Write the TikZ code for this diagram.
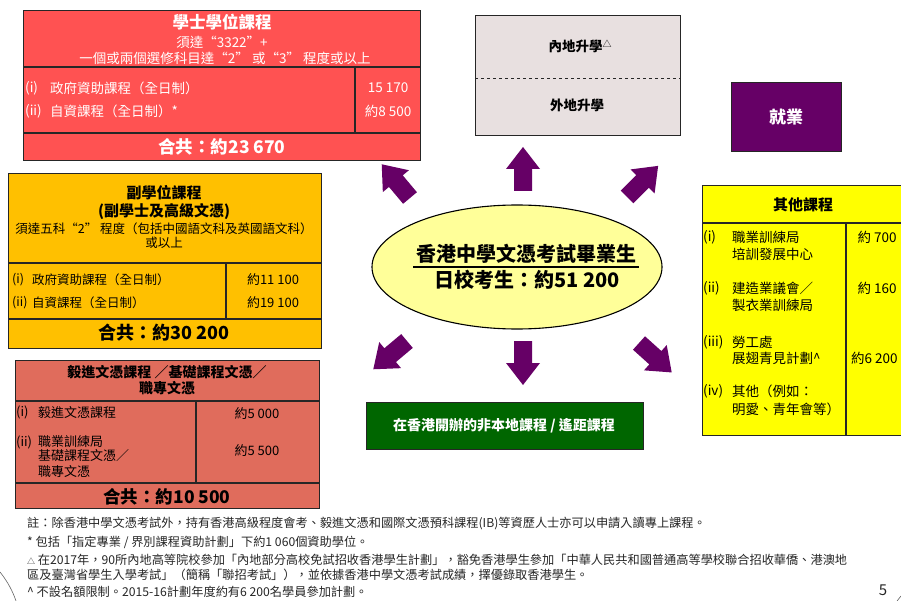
\documentclass[tikz,border=0pt]{standalone}
\usepackage{fontspec}
\setmainfont{Noto Sans CJK TC}
\usetikzlibrary{shapes.geometric}
\definecolor{redA}{RGB}{255,82,82}
\definecolor{orangeA}{RGB}{255,192,0}
\definecolor{salmonA}{RGB}{224,108,92}
\definecolor{yellowA}{RGB}{255,255,0}
\definecolor{lightyel}{RGB}{255,255,153}
\definecolor{purpleA}{RGB}{102,0,102}
\definecolor{greenA}{RGB}{0,102,0}
\definecolor{greyA}{RGB}{232,224,224}
\newcommand\fsz[1]{\fontsize{#1}{#1}\selectfont}
\tikzset{
  panel/.style={draw=black!85, line width=1.1pt, anchor=north west, inner sep=0pt},
  sep/.style={draw=black!85, line width=1.1pt},
  txt/.style={inner sep=0pt, anchor=center},
  ltxt/.style={inner sep=0pt, anchor=west},
  note/.style={inner sep=0pt, anchor=west, text=black!85, font=\fsz{12.2}},
  pics/blockarrow/.style={code={
    \fill[purpleA] (0,-9) -- (22,-9) -- (22,-17) -- (44,0) -- (22,17) -- (22,9) -- (0,9) -- cycle;}}
}
\begin{document}
\begin{tikzpicture}[x=1pt,y=-1pt]
\useasboundingbox (0,0) rectangle (901,601);
\fill[white] (0,0) rectangle (901,601);

% ---- Box 1: bachelor
\node[panel, fill=redA, minimum width=397pt, minimum height=150pt] (bach) at (23,10) {};
\draw[sep] (23,67) -- (420,67);
\draw[sep] (23,133) -- (420,133);
\draw[sep] (355,67) -- (355,133);
\node[txt, text=white, font=\bfseries\fsz{16.5}] (b1) at (222,22) {學士學位課程};
\node[txt, text=white, font=\fsz{13.5}] (b2) at (222,42) {須達“3322”+};
\node[txt, text=white, font=\fsz{13.5}] (b3) at (225,58) {一個或兩個選修科目達“2” 或“3” 程度或以上};
\node[ltxt, text=white, font=\fsz{13.5}] (b4a) at (25,88) {(i)};
\node[ltxt, text=white, font=\fsz{13.5}] (b4) at (50,88) {政府資助課程（全日制）};
\node[ltxt, text=white, font=\fsz{13.5}] (b5a) at (25,111) {(ii)};
\node[ltxt, text=white, font=\fsz{13.5}] (b5) at (50,111) {自資課程（全日制）*};
\node[txt, text=white, font=\fsz{13.5}] (b6) at (388,88) {15 170};
\node[txt, text=white, font=\fsz{13.5}] (b7) at (388,111) {約8 500};
\node[txt, text=white, font=\bfseries\fsz{17.5}] (b8) at (222,147) {合共：約23 670};

% ---- Box 2: sub-degree
\node[panel, fill=orangeA, minimum width=313pt, minimum height=175pt] (sub) at (8,173) {};
\draw[sep] (8,263) -- (321,263);
\draw[sep] (8,319) -- (321,319);
\draw[sep] (226,263) -- (226,319);
\node[txt, font=\bfseries\fsz{15}] (s1) at (164,193) {副學位課程};
\node[txt, font=\bfseries\fsz{15}] (s2) at (164,212) {(副學士及高級文憑)};
\node[txt, font=\fsz{12.5}] (s3) at (164,229) {須達五科“2” 程度（包括中國語文科及英國語文科）};
\node[txt, font=\fsz{12.5}] (s4) at (164,243) {或以上};
\node[ltxt, font=\fsz{12.5}] (s5a) at (12,280) {(i)};
\node[ltxt, font=\fsz{12.5}] (s5) at (32,280) {政府資助課程（全日制）};
\node[ltxt, font=\fsz{12.5}] (s6a) at (12,303) {(ii)};
\node[ltxt, font=\fsz{12.5}] (s6) at (32,303) {自資課程（全日制）};
\node[txt, font=\fsz{13}] (s7) at (273,280) {約11 100};
\node[txt, font=\fsz{13}] (s8) at (273,303) {約19 100};
\node[txt, font=\bfseries\fsz{18}] (s9) at (164,333) {合共：約30 200};

% ---- Box 3: yi jin
\node[panel, fill=salmonA, minimum width=304pt, minimum height=148pt] (yj) at (15,360) {};
\draw[sep] (15,401) -- (319,401);
\draw[sep] (15,483) -- (319,483);
\draw[sep] (196,401) -- (196,483);
\node[txt, font=\bfseries\fsz{14}] (y1) at (167,372) {毅進文憑課程 ∕基礎課程文憑∕};
\node[txt, font=\bfseries\fsz{14}] (y2) at (167,388) {職專文憑};
\node[ltxt, font=\fsz{13}] (y3) at (16,412) {(i)};
\node[ltxt, font=\fsz{13}] (y4) at (38,412) {毅進文憑課程};
\node[ltxt, font=\fsz{13}] (y5) at (16,442) {(ii)};
\node[ltxt, font=\fsz{13}] (y6) at (38,442) {職業訓練局};
\node[ltxt, font=\fsz{13}] (y7) at (38,456) {基礎課程文憑∕};
\node[ltxt, font=\fsz{13}] (y8) at (38,472) {職專文憑};
\node[txt, font=\fsz{13}] (y9) at (257,414) {約5 000};
\node[txt, font=\fsz{13}] (y10) at (257,451) {約5 500};
\node[txt, font=\bfseries\fsz{17.5}] (y11) at (167,497) {合共：約10 500};

% ---- Box 4: mainland / outside
\node[panel, fill=greyA, minimum width=205pt, minimum height=120pt] (ml) at (475,15) {};
\draw[black!85, dashed, line width=0.8pt] (475,78) -- (680,78);
\node[txt, font=\bfseries\fsz{13.5}] (m1) at (580,46) {內地升學\raisebox{4pt}{\fsz{9}\mdseries △}};
\node[txt, font=\bfseries\fsz{13.5}] (m2) at (577,105) {外地升學};

% ---- Box 5: employment
\node[panel, fill=purpleA, minimum width=110pt, minimum height=69pt] (emp) at (731,82) {};
\node[txt, text=white, font=\bfseries\fsz{17}] (e1) at (786,117) {就業};

% ---- Box 6: other courses
\node[panel, fill=yellowA, minimum width=205pt, minimum height=250pt] (oth) at (702,185) {};
\draw[sep] (702,223) -- (907,223);
\draw[sep] (846,223) -- (846,435);
\node[txt, font=\bfseries\fsz{15}] (o1) at (803,205) {其他課程};
\node[ltxt, font=\fsz{13.5}] (o2) at (703,237) {(i)};
\node[ltxt, font=\fsz{13.5}] (o3) at (732,237) {職業訓練局};
\node[ltxt, font=\fsz{13.5}] (o4) at (732,254) {培訓發展中心};
\node[ltxt, font=\fsz{13.5}] (o5) at (703,288) {(ii)};
\node[ltxt, font=\fsz{13.5}] (o6) at (732,288) {建造業議會∕};
\node[ltxt, font=\fsz{13.5}] (o7) at (732,305) {製衣業訓練局};
\node[ltxt, font=\fsz{13.5}] (o8) at (703,342) {(iii)};
\node[ltxt, font=\fsz{13.5}] (o9) at (732,342) {勞工處};
\node[ltxt, font=\fsz{13.5}] (o10) at (732,358) {展翅青見計劃\^{}};
\node[ltxt, font=\fsz{13.5}] (o11) at (703,391) {(iv)};
\node[ltxt, font=\fsz{13.5}] (o12) at (732,391) {其他（例如：};
\node[ltxt, font=\fsz{13.5}] (o13) at (732,409) {明愛、青年會等）};
\node[txt, font=\fsz{13.5}] (o14) at (877,237) {約 700};
\node[txt, font=\fsz{13.5}] (o15) at (877,288) {約 160};
\node[ltxt, font=\fsz{13.5}] (o16) at (851,358) {約6 200};

% ---- Centre ellipse
\node[ellipse, draw=black, line width=1.1pt, fill=lightyel, minimum width=290pt, minimum height=124pt] (dse) at (517,267) {};
\node[txt, font=\bfseries\fsz{20}] (d1) at (526,254) {香港中學文憑考試畢業生};
\draw[black, line width=1.6pt] (413,267) -- (639,267);
\node[txt, font=\bfseries\fsz{20}] (d2) at (527,280) {日校考生：約51 200};

% ---- Green box
\node[panel, fill=greenA, minimum width=277pt, minimum height=47pt] (nl) at (366,402) {};
\node[txt, text=white, font=\bfseries\fsz{14}] (n1) at (504,426) {在香港開辦的非本地課程 / 遙距課程};

% ---- Block arrows
\pic[rotate=90] at (523,191) {blockarrow};
\pic[rotate=130] at (410,198) {blockarrow};
\pic[rotate=45] at (627,197) {blockarrow};
\pic[rotate=-90] at (523,341) {blockarrow};
\pic[rotate=220] at (407,341) {blockarrow};
\pic[rotate=-42] at (639,343) {blockarrow};

% ---- Notes
\node[note] (f1) at (27,523) {註：除香港中學文憑考試外，持有香港高級程度會考、毅進文憑和國際文憑預科課程(IB)等資歷人士亦可以申請入讀專上課程。};
\node[note] (f2) at (27,542) {* 包括「指定專業 / 界別課程資助計劃」下約1 060個資助學位。};
\node[note] (f3) at (27,560) {{\fsz{8}△} 在2017年，90所內地高等院校參加「內地部分高校免試招收香港學生計劃」，豁免香港學生參加「中華人民共和國普通高等學校聯合招收華僑、港澳地};
\node[note] (f4) at (27,575) {區及臺灣省學生入學考試」（簡稱「聯招考試」），並依據香港中學文憑考試成績，擇優錄取香港學生。};
\node[note] (f5) at (27,592) {\^{} 不設名額限制。2015-16計劃年度約有6 200名學員參加計劃。};
\node[txt, text=black!85, font=\fsz{15}] (pg) at (883,590) {5};

% ---- slide decoration
\draw[black!60, line width=0.6pt] (0,572) .. controls (8,582) and (13,592) .. (16,601);
\draw[black!60, line width=0.6pt] (897,601) -- (901,596);
\end{tikzpicture}
\end{document}
